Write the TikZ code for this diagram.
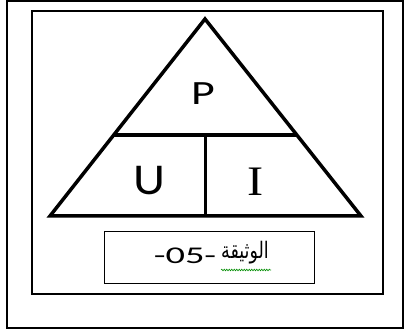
\documentclass[tikz,border=0pt]{standalone}
\usepackage{fontspec}
\setmainfont{Carlito}
\newfontfamily\serifI{Liberation Serif}
\newfontfamily\arabicfont[Script=Arabic]{DejaVu Sans}
\usepackage{tikz}
\usetikzlibrary{positioning,calc,decorations.pathmorphing}
\TeXXeTstate=1

\begin{document}
\begin{tikzpicture}[x=1pt,y=-1pt,
    frame/.style={draw=black,line width=1.5pt},
    side/.style={draw=black,line width=3.5pt,line join=miter},
    letter/.style={inner sep=0pt,anchor=center},
    docbox/.style={rectangle,draw=black,line width=1pt,minimum width=210pt,minimum height=52pt,inner sep=0pt},
    wavy/.style={draw=green!55!black,line width=0.6pt,decorate,decoration={snake,amplitude=0.8pt,segment length=2.5pt}}
]
\useasboundingbox (0,0) rectangle (405,331);
% frames
\draw[frame] (7,1) rectangle (403,328);
\draw[frame] (32,11) rectangle (383,294);
% triangle
\coordinate (apex) at (205,19);
\coordinate (bl) at (50,216);
\coordinate (br) at (361,216);
\coordinate (ml) at ($(apex)!0.589!(bl)$);
\coordinate (mr) at ($(apex)!0.589!(br)$);
\coordinate (mt) at ($(ml)!0.5!(mr)$);
\coordinate (mb) at (mt |- bl);
\draw[side] (apex) -- (br) -- (bl) -- cycle;
\draw[side] (ml) -- (mr);
\draw[side] (mt) -- (mb);
\node[letter,font=\fontsize{34}{36}\selectfont] (p) at (203,93.5) {\scalebox{1.35}[1]{P}};
\node[letter,font=\fontsize{44}{48}\selectfont] (u) at (149.5,181) {\scalebox{1.13}[1]{U}};
\node[letter,font=\serifI\fontsize{42}{46}\selectfont] (i) at (255.5,182) {\scalebox{1.15}[1]{I}};
% document label
\node[docbox] (doc) at (209,258) {};
\node[letter,font=\arabicfont\fontsize{17.5}{22}\selectfont] (word) at (245,253) {\scalebox{1}[1.3]{\beginR الوثيقة\endR}};
\node[letter,font=\fontsize{24}{28}\selectfont] (num) at (185,255.5) {\scalebox{1.6}[1]{-05-}};
\coordinate (ua) at (word.west |- 0,270);
\coordinate (ub) at ($(word.east |- 0,270)+(2,0)$);
\draw[wavy] (ua) -- (ub);
\end{tikzpicture}
\end{document}
